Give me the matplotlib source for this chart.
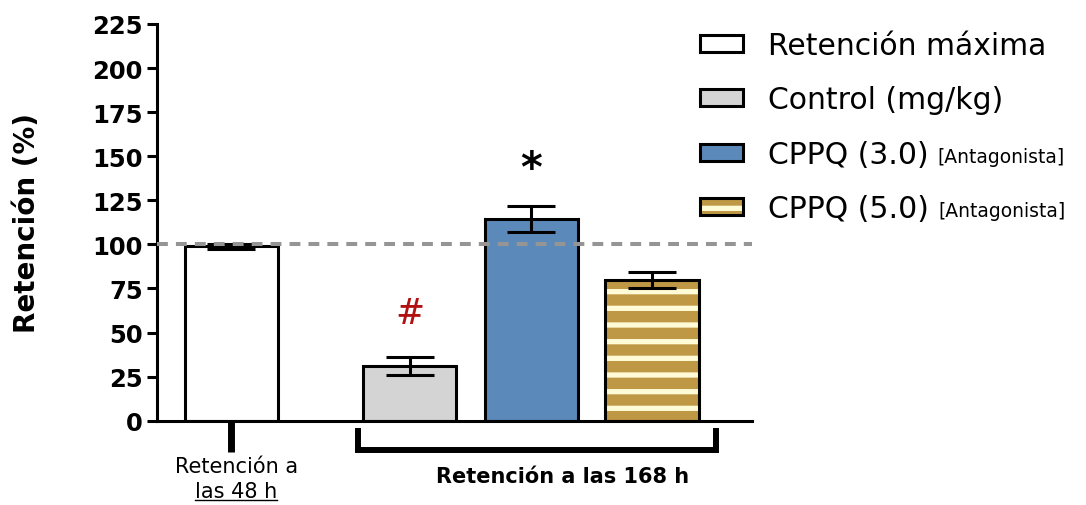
import matplotlib.pyplot as plt
from matplotlib.patches import Patch
from matplotlib.lines import Line2D
from matplotlib.transforms import IdentityTransform

plt.rcParams['font.family'] = ['DejaVu Sans']
plt.rcParams['hatch.linewidth'] = 3.8

# retención (%) por grupo, media y error estándar
grupos = ["Retención máxima", "Control (mg/kg)", "CPPQ (3.0)", "CPPQ (5.0)"]
retencion = [99.0, 31.0, 114.5, 80.0]
error = [1.5, 5.0, 7.5, 4.5]
posiciones = [0.0, 1.92, 3.225, 4.525]
marcas = ["", "#", "*", ""]

BLANCO = "white"
GRIS = "#d4d4d4"
AZUL = "#5b89b9"
ORO = "#bf9846"
CREMA = "#fffbd6"

fig = plt.figure(figsize=(10.86, 5.06), dpi=100)
ax = fig.add_axes([157 / 1086, 84.3 / 506, 595 / 1086, 396.7 / 506])

# barras con fondo liso
for i in range(3):
    ax.bar(posiciones[i], retencion[i], width=1.0,
           color=[BLANCO, GRIS, AZUL][i], edgecolor="black",
           linewidth=2.2, zorder=2)
# barra rayada: relleno dorado con rayas crema y contorno negro aparte
ax.bar(posiciones[3], retencion[3], width=1.0, color=ORO, edgecolor=CREMA,
       hatch="-", linewidth=0, zorder=2)
ax.bar(posiciones[3], retencion[3], width=1.0, fill=False, edgecolor="black",
       linewidth=2.2, zorder=2)

ax.errorbar(posiciones, retencion, yerr=error, fmt="none", ecolor="black",
            elinewidth=2.2, capsize=17, capthick=2.2, zorder=3)

ax.axhline(100, color="#959595", lw=2.9, dashes=(2.7, 2.0), zorder=4)

# marcas de significancia
for x, v, e, m in zip(posiciones, retencion, error, marcas):
    if m == "#":
        ax.text(x, v + e + 25, m, color="#b01212", fontsize=25,
                family="DejaVu Serif", style="italic",
                ha="center", va="center")
    elif m == "*":
        ax.text(x, v + e + 21, m, color="black", fontsize=30,
                fontweight="bold", ha="center", va="center")

ax.set_ylim(0, 225)
ax.set_xlim(-0.796, 5.60)
ax.set_yticks(range(0, 226, 25))
ax.set_xticks([0])
ax.set_xticklabels([""])
for s in ["top", "right"]:
    ax.spines[s].set_visible(False)
for s in ["left", "bottom"]:
    ax.spines[s].set_linewidth(2.2)
ax.tick_params(axis="y", length=7.2, width=2.2, labelsize=17.5, pad=3)
ax.tick_params(axis="x", length=22, width=5)
for t in ax.get_yticklabels():
    t.set_fontweight("bold")
ax.set_ylabel("Retención (%)", fontsize=20, fontweight="bold", labelpad=37)

# etiquetas bajo el eje
ax.text(0.06, -0.114, "Retención a", transform=ax.get_xaxis_transform(),
        ha="center", va="center", fontsize=15)
t48 = ax.text(0.05, -0.177, "las 48 h", transform=ax.get_xaxis_transform(),
              ha="center", va="center", fontsize=15)
ax.text(3.56, -0.139, "Retención a las 168 h",
        transform=ax.get_xaxis_transform(), ha="center", va="center",
        fontsize=15, fontweight="bold")
ax.add_line(Line2D([1.363, 1.363, 5.21, 5.21], [-0.026, -0.074, -0.074, -0.026],
                   transform=ax.get_xaxis_transform(), color="black", lw=4.3,
                   solid_joinstyle="miter", clip_on=False))

handles = [Patch(facecolor=BLANCO, edgecolor="black", linewidth=2.2),
           Patch(facecolor=GRIS, edgecolor="black", linewidth=2.2),
           Patch(facecolor=AZUL, edgecolor="black", linewidth=2.2),
           (Patch(facecolor=ORO, edgecolor=CREMA, linewidth=0, hatch="-"),
            Patch(fill=False, edgecolor="black", linewidth=2.2))]
leg = fig.legend(handles, grupos, loc="upper left",
                 bbox_to_anchor=(700 / 1086, 1 - 32 / 506),
                 frameon=False, fontsize=21.5, handlelength=1.44,
                 handleheight=0.5, handletextpad=0.84, labelspacing=0.85,
                 borderpad=0, borderaxespad=0)

fig.canvas.draw()
r = fig.canvas.get_renderer()

# subrayado de "las 48 h"
bb = t48.get_window_extent(r)
fig.add_artist(Line2D([bb.x0, bb.x1], [bb.y0 + 1, bb.y0 + 1],
                      transform=IdentityTransform(), color="black", lw=1))

# "[Antagonista]" en letra pequeña tras las etiquetas CPPQ
for t in leg.get_texts()[2:]:
    bt = t.get_window_extent(r)
    fig.text((bt.x1 + 9) / 1086, (bt.y0 + 0.236 * 29.9) / 506, "[Antagonista]",
             fontsize=13.5, va="baseline", ha="left")

fig.savefig("out.png", dpi=100)
